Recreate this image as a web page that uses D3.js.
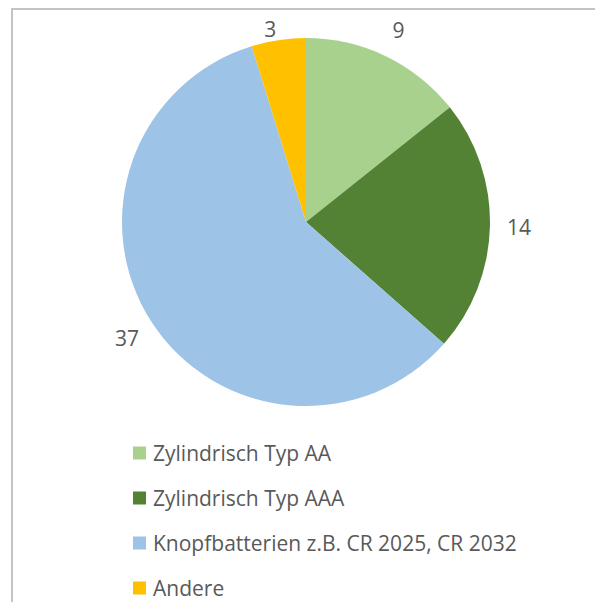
<!DOCTYPE html>
<html>
<head>
	<meta charset="utf-8">
	<title>Batterien</title>
	<script src="https://d3js.org/d3.v7.min.js"></script>
	<style>
		body { margin: 0; background: #fff; }
		text { font-family: "Open Sans", "Noto Sans", sans-serif; fill: #595959; }
	</style>
</head>
<body>
	<script>
		var categories = ["Zylindrisch Typ AA", "Zylindrisch Typ AAA", "Knopfbatterien z.B. CR 2025, CR 2032", "Andere"];
		var values = [9, 14, 37, 3];
		var colors = ["#a9d18e", "#548235", "#9dc3e6", "#ffc000"];

		var svgWidth = 595,
			svgHeight = 602,
			cx = 306,
			cy = 222,
			radius = 184,
			labelRadius = 213,
			labelTop = 29;

		var svg = d3.select("body")
			.append("svg")
			.attr("width", svgWidth)
			.attr("height", svgHeight);

		// chart frame (runs off the right and bottom edge)
		svg.append("rect")
			.attr("x", 12)
			.attr("y", 9)
			.attr("width", 620)
			.attr("height", 640)
			.attr("fill", "none")
			.attr("stroke", "#c4c4c4")
			.attr("stroke-width", 2);

		var data = categories.map(function(c, i) {
			return {name: c, value: values[i], color: colors[i]};
		});

		var pie = d3.pie()
			.sort(null)
			.value(function(d) { return d.value; });

		var arc = d3.arc()
			.innerRadius(0)
			.outerRadius(radius);

		var labelArc = d3.arc()
			.innerRadius(labelRadius)
			.outerRadius(labelRadius);

		var g = svg.append("g")
			.attr("transform", "translate(" + cx + "," + cy + ")");

		var arcs = pie(data);

		g.selectAll("path")
			.data(arcs)
			.enter().append("path")
			.attr("d", arc)
			.attr("fill", function(d) { return d.data.color; });

		// value labels outside the slices, kept inside the plot area
		g.selectAll(".lbl")
			.data(arcs)
			.enter().append("text")
			.attr("class", "lbl")
			.attr("text-anchor", "middle")
			.attr("dominant-baseline", "central")
			.attr("font-size", "21px")
			.attr("x", function(d) {
				var c = labelArc.centroid(d);
				return c[1] < labelTop - cy ? c[0] - 4 : c[0];
			})
			.attr("y", function(d) { return Math.max(labelArc.centroid(d)[1], labelTop - cy); })
			.text(function(d) { return d.data.value; });

		// legend
		var legendY = d3.scalePoint()
			.domain(categories)
			.range([453, 588]);

		var legend = svg.append("g")
			.selectAll("g")
			.data(data)
			.enter().append("g")
			.attr("transform", function(d) { return "translate(133," + legendY(d.name) + ")"; });

		legend.append("rect")
			.attr("x", 0)
			.attr("y", -6.5)
			.attr("width", 13)
			.attr("height", 13)
			.attr("fill", function(d) { return d.color; });

		legend.append("text")
			.attr("x", 20)
			.attr("y", 0)
			.attr("dominant-baseline", "central")
			.attr("font-size", "21px")
			.text(function(d) { return d.name; });
	</script>
</body>
</html>
